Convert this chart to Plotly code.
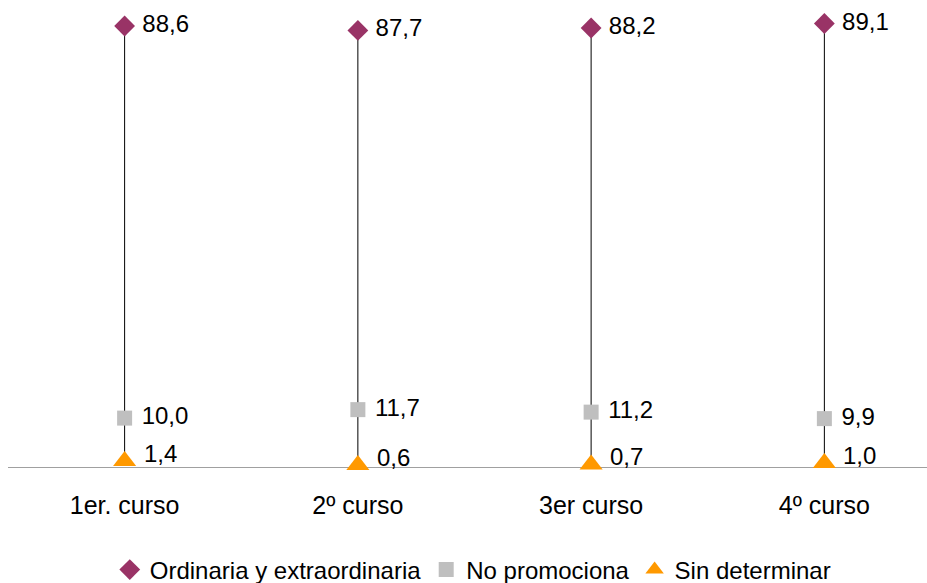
import plotly.graph_objects as go

# Datos por curso
cursos = ["1er. curso", "2º curso", "3er curso", "4º curso"]
ordinaria = [88.6, 87.7, 88.2, 89.1]
no_promociona = [10.0, 11.7, 11.2, 9.9]
sin_determinar = [1.4, 0.6, 0.7, 1.0]

pos = list(range(len(cursos)))
FAM = "Liberation Sans, Arial"
font_lbl = dict(family=FAM, size=24, color="black")

# --- lineas max-min por curso ---
lx, ly = [], []
for i in pos:
    vals = [ordinaria[i], no_promociona[i], sin_determinar[i]]
    lx += [i, i, None]
    ly += [min(vals), max(vals), None]

fig = go.Figure()
fig.add_trace(go.Scatter(x=lx, y=ly, mode="lines", line=dict(color="black", width=1),
                         showlegend=False, hoverinfo="skip", cliponaxis=False))

fig.add_trace(go.Scatter(
    x=pos, y=ordinaria, name="Ordinaria y extraordinaria", mode="markers+text",
    marker=dict(symbol="diamond", size=16, color="#993366"),
    texttemplate=" %{y:.1f}", textposition="middle right", textfont=font_lbl,
    cliponaxis=False))
fig.add_trace(go.Scatter(
    x=pos, y=no_promociona, name="No promociona", mode="markers+text",
    marker=dict(symbol="square", size=15, color="#BFBFBF"),
    texttemplate=" %{y:.1f}", textposition="middle right", textfont=font_lbl,
    cliponaxis=False))
fig.add_trace(go.Scatter(
    x=pos, y=sin_determinar, name="Sin determinar", mode="markers",
    marker=dict(symbol="triangle-up", size=20, color="#FF9900"),
    cliponaxis=False))

# etiquetas del triangulo (un poco por encima del marcador)
for i in pos:
    fig.add_annotation(x=i, y=sin_determinar[i], text=f"{sin_determinar[i]:.1f}".replace(".", ","),
                       showarrow=False, xanchor="left", yanchor="middle",
                       xshift=17, yshift=8, font=font_lbl)

fig.update_layout(
    width=927, height=583,
    margin=dict(l=8, r=0, t=19, b=115, autoexpand=False),
    paper_bgcolor="white", plot_bgcolor="white",
    separators=",.",
    font=font_lbl,
    showlegend=True,
    legend=dict(orientation="h", xref="container", yref="container",
                x=0.51, xanchor="center", y=0.0223, yanchor="middle",
                font=dict(family=FAM, size=24, color="black"),
                itemwidth=30, tracegroupgap=0),
    xaxis=dict(range=[-0.5, 3.44], tickvals=pos, ticktext=cursos, showgrid=False,
               zeroline=False, showline=False, ticks="", automargin=False,
               ticklabelstandoff=20,
               tickfont=dict(family=FAM, size=25, color="black")),
    yaxis=dict(range=[0, 90], visible=False, showgrid=False, zeroline=False,
               automargin=False),
)

# linea del eje
fig.add_shape(type="line", xref="paper", yref="y", x0=0, x1=1, y0=0, y1=0,
              line=dict(color="#808080", width=1.5), layer="below")

# sin margen en el body para que el lienzo ocupe toda la ventana
fig.write_html("out.html", config={"displayModeBar": False},
               post_script="document.body.style.margin='0px';")
